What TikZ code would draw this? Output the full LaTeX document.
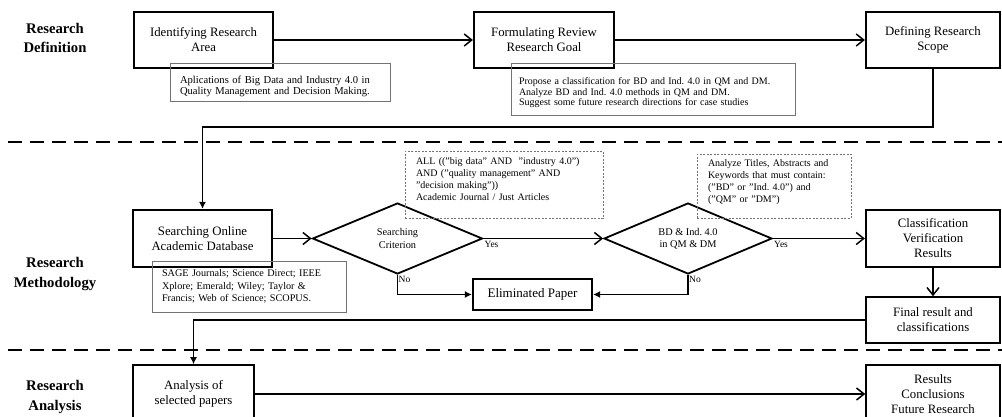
\documentclass[tikz,border=0pt]{standalone}
\usepackage{fontspec}
\setmainfont{Liberation Serif}
\usepackage{tikz}
\usetikzlibrary{shapes.geometric}
\usetikzlibrary{arrows.meta}
\frenchspacing

\begin{document}
\begin{tikzpicture}[x=1pt,y=-1pt,
    stage/.style={draw,line width=2.2pt,align=center,inner sep=0pt,font=\fontsize{12.8}{15}\selectfont},
    stagethin/.style={stage,line width=1.6pt},
    decision/.style={diamond,draw,line width=1.8pt,shape aspect=2.4,inner sep=1pt,align=center,font=\fontsize{10.3}{12.3}\selectfont},
    note/.style={draw=black!55,line width=0.7pt,align=left,inner ysep=0pt,font=\fontsize{10}{10.5}\selectfont},
    query/.style={note,dash pattern=on 2pt off 1.5pt,font=\fontsize{10}{11.7}\selectfont},
    phase/.style={align=center,font=\fontsize{14.7}{19.5}\selectfont\bfseries},
    tag/.style={inner sep=1pt,font=\fontsize{9.5}{10}\selectfont},
    flow/.style={line width=1.5pt,-{Straight Barb[length=7.5pt,width=12pt]}},
    feed/.style={line width=1.5pt,-{Latex[length=7pt,width=7pt]}},
    divider/.style={line width=2.6pt,dash pattern=on 14pt off 8pt}]
  \useasboundingbox (0,0) rectangle (1002,416);

  \node[phase] (definition) at (55,38) {Research\\Definition};
  \node[phase] (methodology) at (55,274) {Research\\Methodology};
  \node[phase] (analysisphase) at (55,397) {Research\\Analysis};

  \draw[divider] (8,142) -- (1002,142);
  \draw[divider] (8,350) -- (1002,350);

  \node[stage,minimum width=139,minimum height=56] (area) at (203.5,40) {Identifying Research\\Area};
  \node[stage,minimum width=140,minimum height=56] (goal) at (544,40) {Formulating Review\\Research Goal};
  \node[stage,minimum width=134,minimum height=56] (scope) at (933,40) {Defining Research\\Scope};
  \node[note,font=\fontsize{10.6}{10.8}\selectfont,text width=200,inner xsep=10,minimum height=38] (areanote) at (280,82)
    {\rule{0pt}{16pt}Aplications of Big Data and Industry 4.0 in\\Quality Management and Decision Making.};
  \node[note,text width=268,inner xsep=8,minimum height=52] (goalnote) at (653,89)
    {\rule{0pt}{15pt}Propose a classification for BD and Ind. 4.0 in QM and DM.\\Analyze BD and Ind. 4.0 methods in QM and DM.\\Suggest some future research directions for case studies};

  \node[stage,minimum width=139,minimum height=57] (search) at (202.5,238.5) {Searching Online\\Academic Database};
  \node[note,font=\fontsize{10.2}{12.3}\selectfont,text width=174,inner xsep=10,minimum height=51] (searchnote) at (249,286.5)
    {SAGE Journals; Science Direct; IEEE\\Xplore; Emerald; Wiley; Taylor \&\\Francis; Web of Science; SCOPUS.};
  \node[decision,minimum width=170,minimum height=71] (criterion) at (397.5,238.5) {Searching\\Criterion};
  \node[query,text width=176,inner xsep=11,minimum height=67] (criterionnote) at (504,184.5)
    {ALL (("big data" AND\ \ "industry 4.0")\\AND ("quality management" AND\\"decision making"))\\Academic Journal / Just Articles\rule[-11pt]{0pt}{0pt}};
  \node[decision,minimum width=168,minimum height=71] (topic) at (688,238.5) {BD \& Ind. 4.0\\in QM \& DM};
  \node[query,text width=132,inner xsep=11,minimum height=64] (topicnote) at (774,186)
    {Analyze Titles, Abstracts and\\Keywords that must contain:\\("BD" or "Ind. 4.0") and\\("QM" or "DM")\rule[-10pt]{0pt}{0pt}};
  \node[stage,minimum width=119,minimum height=31,font=\fontsize{13}{15}\selectfont] (eliminated) at (532.5,294.5) {Eliminated Paper};
  \node[stage,minimum width=134,minimum height=57] (classify) at (933,238.5) {Classification\\Verification\\Results};
  \node[stagethin,minimum width=134,minimum height=46] (final) at (933,320) {Final result and\\classifications};

  \node[stagethin,minimum width=121,minimum height=58] (selected) at (193.5,394) {Analysis of\\selected papers};
  \node[stagethin,minimum width=134,minimum height=58] (results) at (933,394) {Results\\Conclusions\\Future Research};

  \coordinate (scopeturn) at (202.5,127);
  \coordinate (finalturn) at (193.5,320);

  \draw[flow] (area) -- (goal);
  \draw[flow] (goal) -- (scope);
  \draw[feed] (scope.south) |- (scopeturn) -- (search.north);
  \draw[flow] (search) -- (criterion);
  \draw[flow] (criterion.east) -- (topic.west);
  \draw[flow] (topic.east) -- (classify.west);
  \draw[feed] (criterion.south) |- (eliminated.west);
  \draw[feed] (topic.south) |- (eliminated.east);
  \draw[flow] (classify) -- (final);
  \draw[feed,line width=1.2pt] (final.west) -- (finalturn) -- (selected.north);
  \draw[flow] (selected.east) -- (results.west);

  \node[tag,anchor=north west] (yescriterion) at ([yshift=-2pt]criterion.east) {Yes};
  \node[tag,anchor=north west] (yestopic) at ([yshift=-2pt]topic.east) {Yes};
  \node[tag,anchor=north west] (nocriterion) at (criterion.south) {No};
  \node[tag,anchor=north west] (notopic) at (topic.south) {No};
\end{tikzpicture}
\end{document}
